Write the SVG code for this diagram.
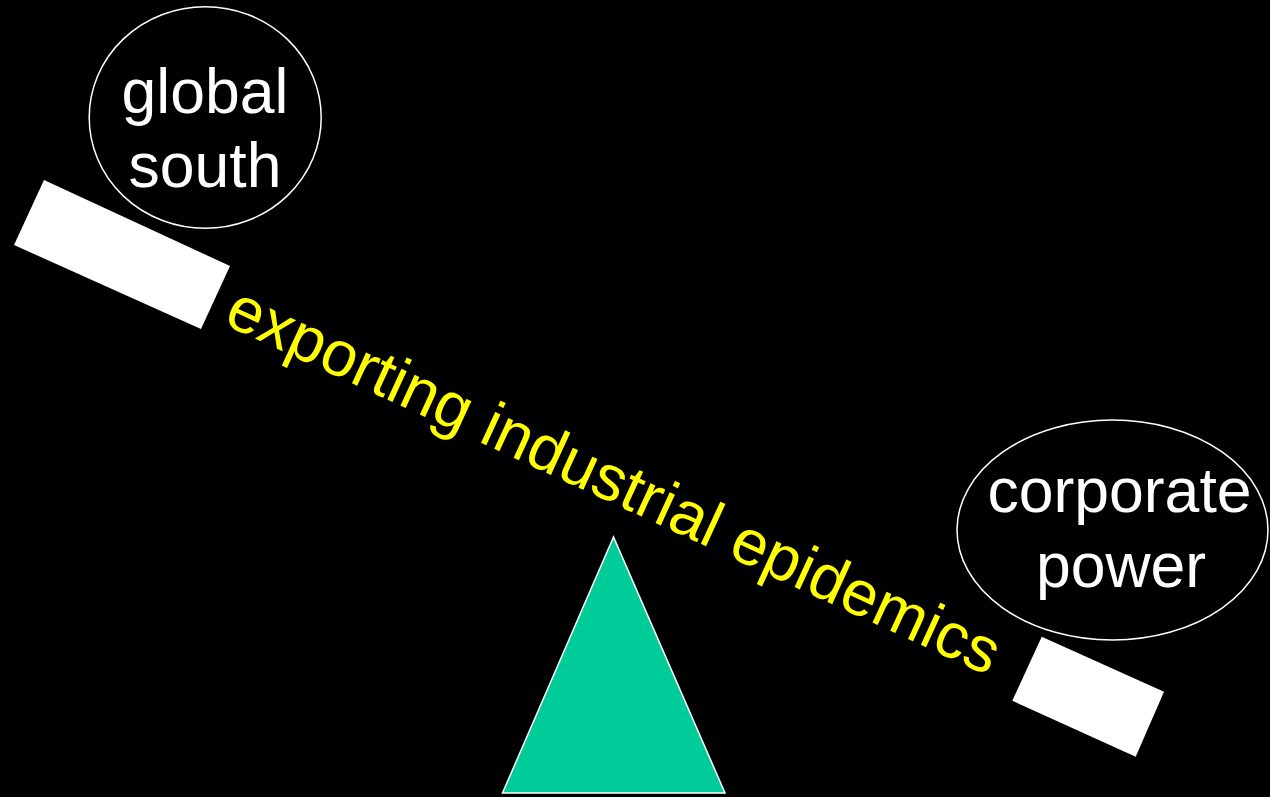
<svg xmlns="http://www.w3.org/2000/svg" width="1270" height="797" viewBox="0 0 1270 797">
  <style>
    .bubble { fill: #000000; stroke: #ffffff; stroke-width: 1.5; }
    .pan { fill: #ffffff; stroke: none; }
    .label { font-family: "Liberation Sans", Arial, sans-serif; font-size: 62.5px; fill: #ffffff; text-anchor: middle; }
    .beam { font-family: "Liberation Sans", Arial, sans-serif; font-size: 64px; fill: #ffff00; }
  </style>
  <rect x="0" y="0" width="1270" height="797" fill="#000000"/>

  <!-- fulcrum -->
  <g id="fulcrum">
    <polygon points="613.5,537 502.5,793 725,793" fill="#00cc99" stroke="#ffffff" stroke-width="1.5" stroke-linejoin="miter"/>
  </g>

  <!-- tilted beam label -->
  <g id="beam-label">
    <text class="beam" transform="translate(222,323.5) rotate(24.7)">exporting industrial epidemics</text>
  </g>

  <!-- left pan and weight -->
  <g id="left-pan">
    <polygon class="pan" points="44,180 230,266 201,329 14,245"/>
  </g>
  <g id="global-south">
    <ellipse class="bubble" cx="205.2" cy="117.5" rx="116" ry="110.8"/>
    <text class="label" x="205" y="113">global</text>
    <text class="label" x="205" y="187">south</text>
  </g>

  <!-- right pan and weight -->
  <g id="right-pan">
    <polygon class="pan" points="1041.7,636.7 1164,691.7 1135.7,756.7 1012.3,700.7"/>
  </g>
  <g id="corporate-power">
    <ellipse class="bubble" cx="1112.5" cy="530" rx="155.5" ry="110"/>
    <text class="label" x="1119.5" y="512">corporate</text>
    <text class="label" x="1121" y="587">power</text>
  </g>

  <g id="connectors"/>
</svg>
